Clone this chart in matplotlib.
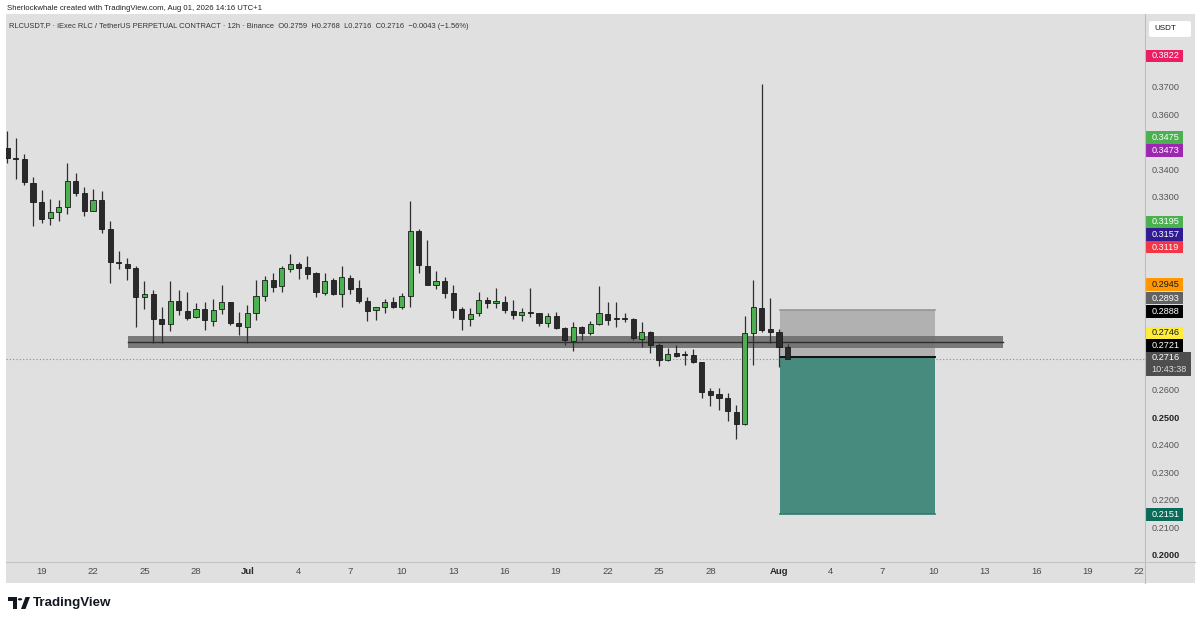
import matplotlib
matplotlib.use("Agg")
import matplotlib.pyplot as plt
import matplotlib.dates as mdates
from matplotlib.patches import Rectangle, Circle, Polygon, FancyBboxPatch
from matplotlib.lines import Line2D
import numpy as np
import pandas as pd

plt.rcParams['font.family'] = ['Liberation Sans', 'DejaVu Sans']

# RLCUSDT.P 12h candles, first bar Jun 17 2026 00:00
opens = [0.3482, 0.3445, 0.3440, 0.3355, 0.3284, 0.3227, 0.3248, 0.3268, 0.3360, 0.3318,
         0.3251, 0.3291, 0.3187, 0.3067, 0.3060, 0.3044, 0.2939, 0.2952, 0.2860, 0.2842,
         0.2927, 0.2889, 0.2867, 0.2897, 0.2854, 0.2896, 0.2921, 0.2845, 0.2832, 0.2881,
         0.2944, 0.3002, 0.2978, 0.3043, 0.3061, 0.3049, 0.3026, 0.2956, 0.3002, 0.2950,
         0.3010, 0.2972, 0.2926, 0.2892, 0.2903, 0.2921, 0.2903, 0.2944, 0.3180, 0.3054,
         0.2985, 0.2998, 0.2955, 0.2896, 0.2861, 0.2880, 0.2928, 0.2918, 0.2922, 0.2889,
         0.2876, 0.2884, 0.2880, 0.2847, 0.2870, 0.2829, 0.2781, 0.2832, 0.2808, 0.2841,
         0.2879, 0.2860, 0.2862, 0.2861, 0.2789, 0.2814, 0.2765, 0.2711, 0.2736, 0.2730,
         0.2729, 0.2705, 0.2599, 0.2586, 0.2574, 0.2524, 0.2480, 0.2808, 0.2901, 0.2824,
         0.2812, 0.2759]
highs = [0.3543, 0.3516, 0.3459, 0.3376, 0.3328, 0.3295, 0.3292, 0.3425, 0.3389, 0.3340,
         0.3331, 0.3325, 0.3217, 0.3107, 0.3083, 0.3054, 0.2996, 0.2966, 0.2903, 0.2999,
         0.2966, 0.2957, 0.2917, 0.2922, 0.2934, 0.2984, 0.2923, 0.2886, 0.2911, 0.3002,
         0.3016, 0.3028, 0.3053, 0.3097, 0.3068, 0.3090, 0.3031, 0.3026, 0.3008, 0.3052,
         0.3020, 0.3002, 0.2941, 0.2905, 0.2932, 0.2940, 0.2954, 0.3289, 0.3186, 0.3147,
         0.3034, 0.3012, 0.2983, 0.2905, 0.2901, 0.2957, 0.2938, 0.2974, 0.2945, 0.2928,
         0.2899, 0.2972, 0.2883, 0.2883, 0.2886, 0.2832, 0.2850, 0.2835, 0.2853, 0.2981,
         0.2921, 0.2921, 0.2883, 0.2865, 0.2850, 0.2818, 0.2772, 0.2754, 0.2764, 0.2745,
         0.2750, 0.2705, 0.2609, 0.2609, 0.2591, 0.2548, 0.2871, 0.3002, 0.3713, 0.2935,
         0.2823, 0.2768]
lows = [0.3425, 0.3367, 0.3346, 0.3199, 0.3207, 0.3200, 0.3216, 0.3240, 0.3306, 0.3234,
        0.3250, 0.3171, 0.2992, 0.3041, 0.3002, 0.2832, 0.2897, 0.2772, 0.2772, 0.2818,
        0.2875, 0.2857, 0.2863, 0.2820, 0.2835, 0.2879, 0.2839, 0.2801, 0.2772, 0.2855,
        0.2926, 0.2957, 0.2959, 0.3032, 0.3004, 0.3004, 0.2940, 0.2948, 0.2946, 0.2904,
        0.2950, 0.2917, 0.2854, 0.2857, 0.2883, 0.2900, 0.2897, 0.2905, 0.3026, 0.2984,
        0.2970, 0.2935, 0.2863, 0.2820, 0.2835, 0.2871, 0.2899, 0.2899, 0.2883, 0.2859,
        0.2853, 0.2867, 0.2835, 0.2832, 0.2824, 0.2766, 0.2745, 0.2784, 0.2802, 0.2839,
        0.2839, 0.2832, 0.2848, 0.2782, 0.2760, 0.2738, 0.2691, 0.2708, 0.2721, 0.2694,
        0.2700, 0.2573, 0.2546, 0.2530, 0.2488, 0.2425, 0.2477, 0.2694, 0.2814, 0.2772,
        0.2685, 0.2716]
closes = [0.3443, 0.3441, 0.3358, 0.3284, 0.3224, 0.3247, 0.3267, 0.3362, 0.3316, 0.3250,
          0.3291, 0.3188, 0.3068, 0.3062, 0.3044, 0.2938, 0.2950, 0.2859, 0.2841, 0.2927,
          0.2893, 0.2865, 0.2898, 0.2857, 0.2894, 0.2921, 0.2845, 0.2835, 0.2882, 0.2945,
          0.3002, 0.2975, 0.3045, 0.3061, 0.3046, 0.3025, 0.2959, 0.2999, 0.2950, 0.3012,
          0.2970, 0.2927, 0.2889, 0.2903, 0.2922, 0.2904, 0.2943, 0.3180, 0.3056, 0.2984,
          0.2998, 0.2954, 0.2893, 0.2860, 0.2879, 0.2928, 0.2918, 0.2926, 0.2891, 0.2876,
          0.2886, 0.2883, 0.2847, 0.2870, 0.2827, 0.2782, 0.2832, 0.2810, 0.2841, 0.2882,
          0.2858, 0.2859, 0.2861, 0.2790, 0.2814, 0.2764, 0.2712, 0.2733, 0.2727, 0.2729,
          0.2704, 0.2594, 0.2584, 0.2573, 0.2527, 0.2480, 0.2808, 0.2905, 0.2820, 0.2814,
          0.2760, 0.2716]

# support zone drawn on the chart
zone_low, zone_mid, zone_high = 0.2753, 0.2776, 0.2799
zone_start, zone_end = "2026-06-24 00:30", "2026-08-14 02:00"

# short position tool
entry, stop, target = 0.2721, 0.2893, 0.2151
pos_start, pos_end = "2026-08-01 01:30", "2026-08-10 02:00"
last_price = 0.2716

# right scale labels
label_values = [0.3822, 0.3475, 0.3473, 0.3195, 0.3157, 0.3119, 0.2945, 0.2893, 0.2888,
                0.2746, 0.2721, 0.2151]
label_colors = ['#e91e63', '#4caf50', '#9c27b0', '#4caf50', '#311b92', '#f23645', '#ff9800',
                '#626262', '#000000', '#ffeb3b', '#000000', '#0b6b58']
label_text_colors = ['white', 'white', 'white', 'white', 'white', 'white', '#131722',
                     'white', 'white', '#131722', 'white', 'white']
# where TradingView stacks them on the scale (price units)
label_slots = [0.3815, 0.3519, 0.3472, 0.3212, 0.3167, 0.3121, 0.2985, 0.2936, 0.2887,
               0.2810, 0.2764, 0.2151]
last_slot = 0.2697

tick_dates = ["2026-06-19", "2026-06-22", "2026-06-25", "2026-06-28", "2026-07-01", "2026-07-04",
              "2026-07-07", "2026-07-10", "2026-07-13", "2026-07-16", "2026-07-19", "2026-07-22",
              "2026-07-25", "2026-07-28", "2026-08-01", "2026-08-04", "2026-08-07", "2026-08-10",
              "2026-08-13", "2026-08-16", "2026-08-19", "2026-08-22"]
tick_labels = ["19", "22", "25", "28", "Jul", "4", "7", "10", "13", "16", "19", "22",
               "25", "28", "Aug", "4", "7", "10", "13", "16", "19", "22"]

W, H = 1200, 622
def fx(px):
    return px / W
def fy(py):
    return 1 - py / H

fig = plt.figure(figsize=(12, 6.22), dpi=100)
fig.patch.set_facecolor('white')

# grey chart panel
fig.patches.append(Rectangle((fx(6), fy(583)), fx(1195) - fx(6), fy(14) - fy(583),
                             transform=fig.transFigure, facecolor='#e0e0e0', edgecolor='none', zorder=-10))

ymin, ymax = 0.19782, 0.39666
ax = fig.add_axes([fx(6), fy(562), fx(1145) - fx(6), fy(14) - fy(562)])
ax.patch.set_visible(False)
for s in ax.spines.values():
    s.set_visible(False)

dates = pd.date_range("2026-06-17", periods=len(opens), freq="12h")
x = mdates.date2num(dates)
o = np.array(opens); h = np.array(highs); l = np.array(lows); c = np.array(closes)
up = c > o

x0 = mdates.date2num(pd.Timestamp("2026-06-17"))
ax.set_xlim(x0 - 0.076, x0 + 66.34)
ax.set_ylim(ymin, ymax)

# support zone
zs, ze = mdates.date2num(pd.Timestamp(zone_start)), mdates.date2num(pd.Timestamp(zone_end))
ax.add_patch(Rectangle((zs, zone_low), ze - zs, zone_high - zone_low,
                       facecolor='#6f6f6f', edgecolor='none', alpha=0.9, zorder=3))
ax.plot([zs, ze], [zone_mid, zone_mid], color='#2e2e2e', lw=1.0, zorder=3)

# position box
ps, pe = mdates.date2num(pd.Timestamp(pos_start)), mdates.date2num(pd.Timestamp(pos_end))
ax.add_patch(Rectangle((ps, entry), pe - ps, stop - entry, facecolor='#b1b1b1',
                       edgecolor='none', zorder=2))
ax.plot([ps, pe], [stop, stop], color='#969696', lw=1.2, zorder=2)
ax.add_patch(Rectangle((ps, target), pe - ps, entry - target, facecolor='#478a7e',
                       edgecolor='none', zorder=2))
ax.plot([ps, pe], [target, target], color='#2f7a6c', lw=1.2, zorder=2)
ax.plot([ps, pe], [entry, entry], color='#111111', lw=1.4, zorder=4)

# last price dotted line
ax.axhline(last_price, color='#8a8a8a', lw=0.8, ls=(0, (1, 2)), zorder=1)

# candles
ax.vlines(x, l, h, color='#2e2e2e', lw=0.9, zorder=5)
body_lo = np.minimum(o, c)
body_h = np.maximum(np.abs(c - o), 0.0004)
ax.bar(x[up], body_h[up], bottom=body_lo[up], width=0.3, color='#4caf50',
       edgecolor='#1a1a1a', linewidth=0.6, zorder=6)
ax.bar(x[~up], body_h[~up], bottom=body_lo[~up], width=0.3, color='#2a2a2a',
       edgecolor='#1a1a1a', linewidth=0.6, zorder=6)

ax.set_yticks([])
ax.set_xticks(mdates.date2num(pd.to_datetime(tick_dates)))
ax.set_xticklabels(tick_labels)
ax.tick_params(axis='x', length=0, pad=3.9, labelsize=6.8, colors='#4a4a4a')
for t in ax.get_xticklabels():
    if t.get_text() in ("Jul", "Aug"):
        t.set_fontweight('bold')
        t.set_color('#2a2a2a')

# price scale
ax2 = fig.add_axes([fx(1145), fy(562), fx(1195) - fx(1145), fy(14) - fy(562)])
ax2.set_xlim(0, 1)
ax2.set_ylim(ymin, ymax)
ax2.axis('off')

bh = 12.5 / 2756
bh2 = 24 / 2756
half_txt = 0.0016
for p in np.arange(0.20, 0.3801, 0.01):
    # ticks hidden under a coloured label are not drawn
    hidden = any(abs(p - s) < bh / 2 + half_txt for s in label_slots) or \
        abs(p - last_slot) < bh2 / 2 + half_txt
    if hidden:
        continue
    bold = round(p, 2) in (0.20, 0.25)
    ax2.text(0.13, p, f"{p:.4f}", ha='left', va='center', fontsize=6.6,
             color='#222222' if bold else '#555555', fontweight='bold' if bold else 'normal', zorder=1)

for v, slot, fc, tc in zip(label_values, label_slots, label_colors, label_text_colors):
    ax2.add_patch(Rectangle((0.02, slot - bh / 2), 0.74, bh, facecolor=fc, edgecolor='none', zorder=3))
    ax2.text(0.13, slot, f"{v:.4f}", ha='left', va='center', fontsize=6.6, color=tc, zorder=4)
ax2.add_patch(Rectangle((0.02, last_slot - bh2 / 2), 0.9, bh2, facecolor='#4e4e4e', edgecolor='none', zorder=3))
ax2.text(0.13, last_slot + 0.0022, f"{last_price:.4f}", ha='left', va='center', fontsize=6.6,
         color='white', zorder=4)
ax2.text(0.13, last_slot - 0.0022, "10:43:38", ha='left', va='center', fontsize=6.6,
         color='#dddddd', zorder=4)

# separators
fig.lines.append(Line2D([fx(1145), fx(1145)], [fy(14), fy(583)], transform=fig.transFigure,
                        color='#bdbdbd', lw=0.8))
fig.lines.append(Line2D([fx(6), fx(1195)], [fy(562), fy(562)], transform=fig.transFigure,
                        color='#c4c4c4', lw=0.8))

# USDT box
fig.patches.append(FancyBboxPatch((fx(1149), fy(37)), fx(1191) - fx(1149), fy(21) - fy(37),
                                  boxstyle="round,pad=0,rounding_size=0.003",
                                  transform=fig.transFigure, facecolor='white', edgecolor='none'))
fig.text(fx(1154), fy(29), "USDT", fontsize=5.8, color='#131722', va='center', ha='left')

# header texts
fig.text(fx(7), fy(9), "Sherlockwhale created with TradingView.com, Aug 01, 2026 14:16 UTC+1",
         fontsize=5.6, color='#222222', va='center', ha='left')
fig.text(fx(9), fy(27),
         "RLCUSDT.P \u00b7 iExec RLC / TetherUS PERPETUAL CONTRACT \u00b7 12h \u00b7 Binance  "
         "O0.2759  H0.2768  L0.2716  C0.2716  \u22120.0043 (\u22121.56%)",
         fontsize=5.4, color='#333333', va='center', ha='left')

# TradingView logo
tr = fig.transFigure
fig.patches.append(Rectangle((fx(8), fy(601)), fx(17) - fx(8), fy(597) - fy(601), transform=tr,
                             facecolor='#131722', edgecolor='none'))
fig.patches.append(Rectangle((fx(13), fy(609)), fx(17) - fx(13), fy(597) - fy(609), transform=tr,
                             facecolor='#131722', edgecolor='none'))
fig.patches.append(Polygon([(fx(21), fy(609)), (fx(25.5), fy(597)), (fx(30), fy(597)), (fx(25.5), fy(609))],
                           closed=True, transform=tr, facecolor='#131722', edgecolor='none'))
fig.patches.append(Circle((fx(20), fy(599.3)), 2.2 / W, transform=tr, facecolor='#131722',
                          edgecolor='none'))
fig.text(fx(33), fy(603), "TradingView", fontsize=9.6, fontweight='bold', color='#131722',
         va='center', ha='left')

fig.savefig("out.png", dpi=100)
